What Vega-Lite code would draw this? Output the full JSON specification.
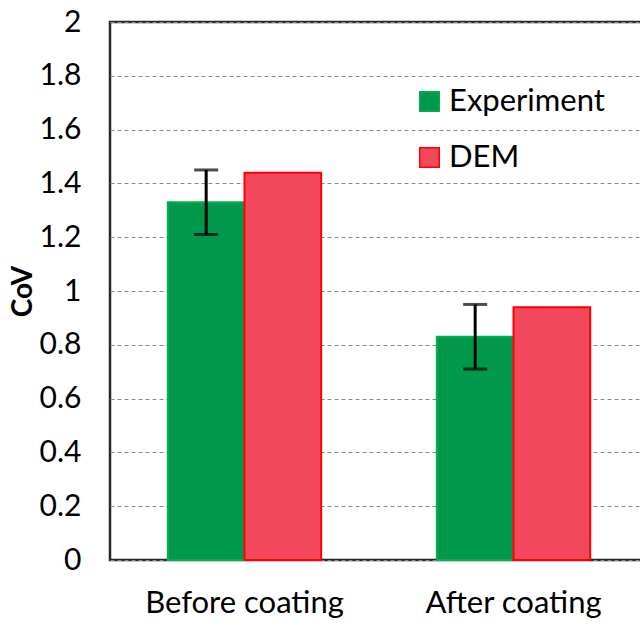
{
  "$schema": "https://vega.github.io/schema/vega-lite/v6.json",
  "autosize": "none",
  "width": 538,
  "height": 538,
  "padding": {"left": 110, "top": 22, "right": 0, "bottom": 65},
  "background": "white",
  "config": {
    "font": "Lato",
    "view": {"stroke": "#262626", "strokeWidth": 2.5},
    "axis": {"labelColor": "black", "titleColor": "black"}
  },
  "data": {
    "values": [
      {"stage": "Before coating", "group": "Experiment", "cov": 1.33, "lo": 1.21, "hi": 1.45},
      {"stage": "Before coating", "group": "DEM", "cov": 1.44},
      {"stage": "After coating", "group": "Experiment", "cov": 0.83, "lo": 0.71, "hi": 0.95},
      {"stage": "After coating", "group": "DEM", "cov": 0.94}
    ]
  },
  "encoding": {
    "x": {
      "field": "stage", "type": "nominal", "sort": ["Before coating", "After coating"],
      "scale": {"paddingInner": 0.43, "paddingOuter": 0.215},
      "axis": {"title": null, "labelAngle": 0, "labelFontSize": 31, "labelLimit": 0, "labelPadding": 28, "domain": false, "ticks": false}
    },
    "xOffset": {"field": "group", "type": "nominal", "scale": {"domain": ["Experiment", "DEM"], "paddingInner": 0}}
  },
  "layer": [
    {
      "mark": {"type": "bar", "strokeWidth": 2},
      "encoding": {
        "y": {
          "field": "cov", "type": "quantitative",
          "scale": {"domain": [0, 2], "nice": false},
          "axis": {
            "title": "CoV", "titleFontSize": 28, "titleFontWeight": "bold", "titlePadding": 2,
            "values": [0, 0.2, 0.4, 0.6, 0.8, 1, 1.2, 1.4, 1.6, 1.8, 2],
            "format": "~g", "labelFontSize": 30, "labelPadding": 29,
            "domain": false, "ticks": false,
            "grid": true, "gridDash": [4, 3], "gridColor": "#8a8a8a", "gridWidth": 1
          }
        },
        "fill": {
          "field": "group", "type": "nominal",
          "scale": {"domain": ["Experiment", "DEM"], "range": ["#00984A", "#F2485C"]},
          "legend": {
            "title": null, "orient": "none", "legendX": 304, "legendY": 64,
            "symbolType": "square", "symbolSize": 380, "symbolStrokeWidth": 1.5,
            "labelFontSize": 31, "labelLimit": 0, "rowPadding": 24, "labelOffset": 4, "labelColor": "black"
          }
        },
        "stroke": {
          "field": "group", "type": "nominal",
          "scale": {"domain": ["Experiment", "DEM"], "range": ["#00B050", "#FF0000"]},
          "legend": null
        }
      }
    },
    {
      "transform": [{"filter": "datum.lo != null"}],
      "mark": {"type": "rule", "color": "black", "strokeWidth": 3},
      "encoding": {
        "y": {"field": "lo", "type": "quantitative"},
        "y2": {"field": "hi"}
      }
    },
    {
      "transform": [{"filter": "datum.lo != null"}],
      "mark": {"type": "tick", "color": "black", "thickness": 3, "size": 24},
      "encoding": {"y": {"field": "lo", "type": "quantitative"}}
    },
    {
      "transform": [{"filter": "datum.lo != null"}],
      "mark": {"type": "tick", "color": "black", "thickness": 3, "size": 24},
      "encoding": {"y": {"field": "hi", "type": "quantitative"}}
    }
  ]
}
